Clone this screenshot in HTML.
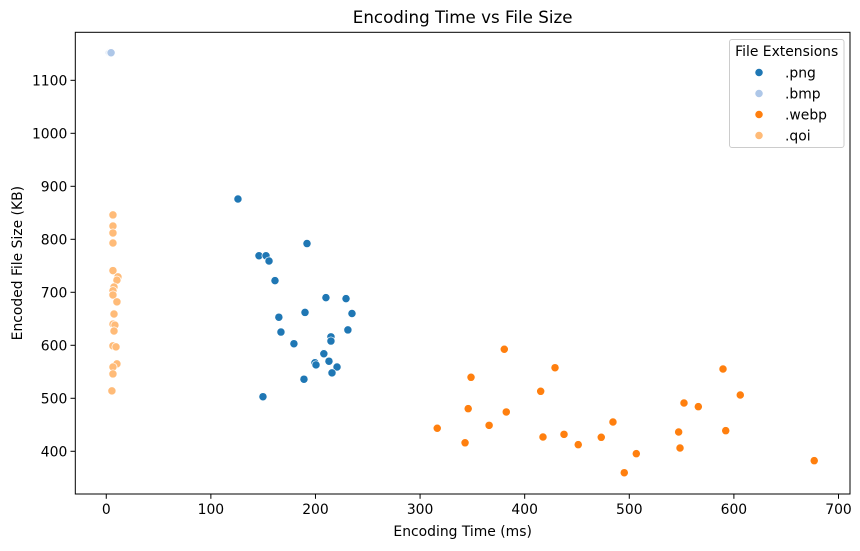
<!DOCTYPE html>
<html><head><meta charset="utf-8"><style>
body{margin:0;background:#fff;font-family:"DejaVu Sans","Liberation Sans",sans-serif}
svg text{font-family:"DejaVu Sans","Liberation Sans",sans-serif;fill:#000}
</style></head><body>
<svg id="chart" width="860" height="547" viewBox="0 0 860 547" xmlns="http://www.w3.org/2000/svg">
<rect width="860" height="547" fill="#fff"/>
<g id="points"></g>
<g id="axes"></g>
</svg>
<script>
const xTicks=[0,100,200,300,400,500,600,700];
const yTicks=[400,500,600,700,800,900,1000,1100];
const seriesNames=[".png",".bmp",".webp",".qoi"];
const seriesColors=["#1f77b4","#aec7e8","#ff7f0e","#ffbb78"];
const pngTime=[125.9,191.9,146,152.7,155.6,161.3,210,229.2,234.9,190,165,231,167,214.8,214.8,179.4,208,212.9,199.5,200.5,220.6,215.8,189,149.8];
const pngSize=[876,792,769,769,759,722,690,688,660,662,653,629,625,616,608,603,584,570,567,563,559,548,536,503];
const bmpTime=[3,3.8,4.6];
const bmpSize=[1152,1152,1152];
const webpTime=[316.4,343,348.7,346,366,380.5,382.4,415.3,417.5,429,437.6,451.2,473.2,484.4,495.2,506.7,547.2,548.5,552.3,566,589.6,606.1,592.2,676.8];
const webpSize=[443.4,416,539.6,480.4,449,592.5,474.2,513.2,427,557.7,432,412.5,426.4,455.3,359.6,395.5,436.4,406.2,491.1,484.2,555.3,506.2,438.9,382.3];
const qoiTime=[6.4,6.4,6.4,6.4,6.4,11.2,10.2,7.4,6.4,6.4,10.2,7.4,6.4,8.3,7.4,6.4,9.3,10.2,6.4,6.4,5.4];
const qoiSize=[846,825,812,793,741,729,723,710,703,695,682,659,640,638,627,599,597,565,559,546,514];

const L=75.3,R=850,T=32.3,B=494;
const xMin=-29.6,xMax=711,yMin=319.4,yMax=1190.6;
const sx=v=>L+(v-xMin)/(xMax-xMin)*(R-L);
const sy=v=>B-(v-yMin)/(yMax-yMin)*(B-T);
const NS="http://www.w3.org/2000/svg";
function mk(tag,attrs,parent){const e=document.createElementNS(NS,tag);for(const k in attrs)e.setAttribute(k,attrs[k]);parent.appendChild(e);return e;}
const pts=document.getElementById('points'),ax=document.getElementById('axes'),svg=document.getElementById('chart');
const allT=[pngTime,bmpTime,webpTime,qoiTime],allS=[pngSize,bmpSize,webpSize,qoiSize];
[0,1,2,3].forEach(si=>{
  allT[si].forEach((t,i)=>{
    const c=mk('circle',{cx:sx(t),cy:sy(allS[si][i]),r:4.1,fill:seriesColors[si],stroke:'#fff','stroke-width':0.7},pts);
    
    
  });
});
const frame=mk('rect',{x:L,y:T,width:R-L,height:B-T,fill:'none',stroke:'#000','stroke-width':1},ax);


xTicks.forEach(v=>{
  const x=sx(v);
  mk('line',{x1:x,x2:x,y1:B,y2:B+4.8,stroke:'#000','stroke-width':1},ax);
  const t=mk('text',{x:x,y:B+20,'font-size':13.9,'text-anchor':'middle'},ax);t.textContent=v;
  
  
});
yTicks.forEach(v=>{
  const y=sy(v);
  mk('line',{x1:L-4.8,x2:L,y1:y,y2:y,stroke:'#000','stroke-width':1},ax);
  const t=mk('text',{x:L-8,y:y+5,'font-size':13.9,'text-anchor':'end'},ax);t.textContent=v;
  
  
});
let t=mk('text',{x:(L+R)/2,y:23,'font-size':16.7,'text-anchor':'middle'},ax);t.textContent='Encoding Time vs File Size';


t=mk('text',{x:(L+R)/2,y:536,'font-size':13.9,'text-anchor':'middle'},ax);t.textContent='Encoding Time (ms)';


t=mk('text',{x:0,y:0,'font-size':13.9,'text-anchor':'middle',transform:`translate(22,${(T+B)/2}) rotate(-90)`},ax);t.textContent='Encoded File Size (KB)';


const lg=mk('g',{},svg);


mk('rect',{x:729.5,y:39.5,width:114.5,height:108,rx:2.5,fill:'#fff','fill-opacity':0.8,stroke:'#ccc','stroke-width':1},lg);
t=mk('text',{x:786.7,y:56,'font-size':13.9,'text-anchor':'middle'},lg);t.textContent='File Extensions';


seriesNames.forEach((n,i)=>{
  const y=72.5+i*21;
  mk('circle',{cx:759,cy:y,r:4.1,fill:seriesColors[i],stroke:'#fff','stroke-width':0.7},lg);
  const e=mk('text',{x:785,y:y+5,'font-size':13.9},lg);e.textContent=n;
  
  
});
</script>
</body></html>
